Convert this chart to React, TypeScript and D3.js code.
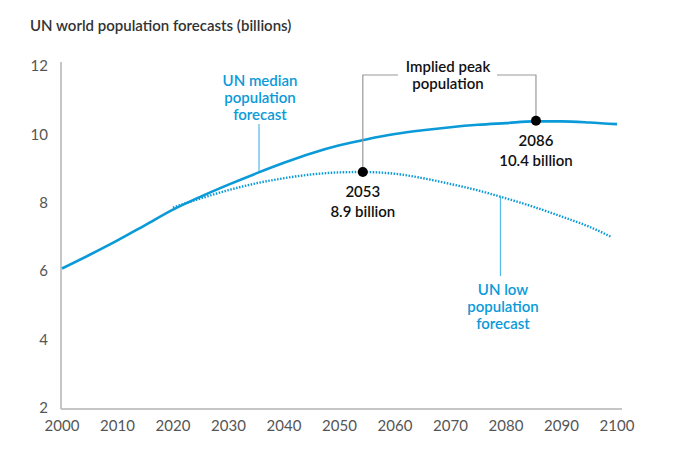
import React from "react";
import * as d3 from "d3";

const title = "UN world population forecasts (billions)";
const xTicks = [2000, 2010, 2020, 2030, 2040, 2050, 2060, 2070, 2080, 2090, 2100];
const yTicks = [2, 4, 6, 8, 10, 12];

const medianYears = [2000, 2005, 2010, 2015, 2020, 2025, 2030, 2035, 2040, 2045, 2050, 2055, 2060, 2065, 2070, 2075, 2080, 2085, 2090, 2095, 2100];
const medianValues = [6.08, 6.48, 6.9, 7.35, 7.8, 8.18, 8.53, 8.86, 9.17, 9.45, 9.68, 9.86, 10.01, 10.12, 10.21, 10.28, 10.33, 10.38, 10.38, 10.35, 10.3];

const lowYears = [2020, 2025, 2030, 2035, 2040, 2045, 2050, 2054, 2060, 2065, 2070, 2075, 2080, 2085, 2090, 2095, 2099];
const lowValues = [7.86, 8.13, 8.37, 8.57, 8.72, 8.83, 8.89, 8.9, 8.85, 8.72, 8.55, 8.36, 8.13, 7.88, 7.6, 7.3, 7.0];

const peakYears = [2053, 2086];
const peakMarkerYears = [2054.2, 2085.4];
const peakValues = [8.9, 10.4];
const peakLabels = ["8.9 billion", "10.4 billion"];

const BLUE = "#0a9ad8";
const LEADER = "#55b9e6";
const FONT = "Lato, 'Open Sans', sans-serif";

export default function App() {
  const W = 700, H = 449;
  const x = d3.scaleLinear().domain([2000, 2100]).range([62, 617]);
  const y = d3.scaleLinear().domain([2, 12]).range([408, 66]);
  const line = d3.line<[number, number]>().x(d => x(d[0])).y(d => y(d[1])).curve(d3.curveMonotoneX);
  const medianPts = medianYears.map((yr, i) => [yr, medianValues[i]] as [number, number]);
  const lowPts = lowYears.map((yr, i) => [yr, lowValues[i]] as [number, number]);

  const p0x = x(peakMarkerYears[0]), p0y = y(peakValues[0]);
  const p1x = x(peakMarkerYears[1]), p1y = y(peakValues[1]);
  const bracketY = 75;

  const medInterp = d3.scaleLinear().domain(medianYears).range(medianValues);
  const lowInterp = d3.scaleLinear().domain(lowYears).range(lowValues);
  const medLeaderX = x(2035.5);
  const lowLeaderX = x(2079);

  return (
    <svg width={W} height={H} style={{ position: "absolute", left: 0, top: 0, background: "#fff" }} fontFamily={FONT}>
      <text x={30} y={31} fontSize={15} fontWeight={600} fill="#333">{title}</text>

      {/* axes */}
      <line x1={61} x2={61} y1={62} y2={409} stroke="#b3b3b3" strokeWidth={1.5} />
      <line x1={61} x2={622} y1={409} y2={409} stroke="#b3b3b3" strokeWidth={1.5} />
      {yTicks.map(t => (
        <text key={t} x={48} y={y(t)} dy="0.35em" textAnchor="end" fontSize={15} fill="#555" fontWeight={400}>{t}</text>
      ))}
      {xTicks.map(t => (
        <text key={t} x={x(t)} y={426} dy="0.35em" textAnchor="middle" fontSize={15} fill="#555" fontWeight={400}>{t}</text>
      ))}

      {/* leaders */}
      <line x1={medLeaderX} x2={medLeaderX} y1={124} y2={y(medInterp(2035.5))} stroke={LEADER} strokeWidth={1.2} />
      <line x1={lowLeaderX} x2={lowLeaderX} y1={y(lowInterp(2079))} y2={276} stroke={LEADER} strokeWidth={1.2} />

      {/* lines */}
      <path d={line(lowPts) || ""} fill="none" stroke={BLUE} strokeWidth={2.4} strokeDasharray="1.5 1.5" />
      <path d={line(medianPts) || ""} fill="none" stroke={BLUE} strokeWidth={2.6} />

      {/* bracket */}
      <polyline points={`${p0x},${p0y} ${p0x},${bracketY} 398,${bracketY}`} fill="none" stroke="#999" strokeWidth={1.2} />
      <polyline points={`497,${bracketY} ${p1x},${bracketY} ${p1x},${p1y}`} fill="none" stroke="#999" strokeWidth={1.2} />
      <g fontSize={15} fontWeight={600} fill="#111" textAnchor="middle">
        <text x={448} y={67} dy="0.35em">Implied peak</text>
        <text x={448} y={84} dy="0.35em">population</text>
      </g>

      {peakYears.map((yr, i) => (
        <g key={yr} fontSize={15} fontWeight={600} fill="#111" textAnchor="middle">
          <circle cx={x(peakMarkerYears[i])} cy={y(peakValues[i])} r={5} fill="#000" />
          <text x={x(peakMarkerYears[i])} y={y(peakValues[i]) + 20} dy="0.35em">{yr}</text>
          <text x={x(peakMarkerYears[i])} y={y(peakValues[i]) + 40} dy="0.35em">{peakLabels[i]}</text>
        </g>
      ))}

      {/* series labels */}
      <g fill={BLUE} fontSize={15} fontWeight={600} textAnchor="middle">
        <text x={260} y={81} dy="0.35em">UN median</text>
        <text x={260} y={98} dy="0.35em">population</text>
        <text x={260} y={115} dy="0.35em">forecast</text>
        <text x={503} y={290} dy="0.35em">UN low</text>
        <text x={503} y={307} dy="0.35em">population</text>
        <text x={503} y={324} dy="0.35em">forecast</text>
      </g>
    </svg>
  );
}
